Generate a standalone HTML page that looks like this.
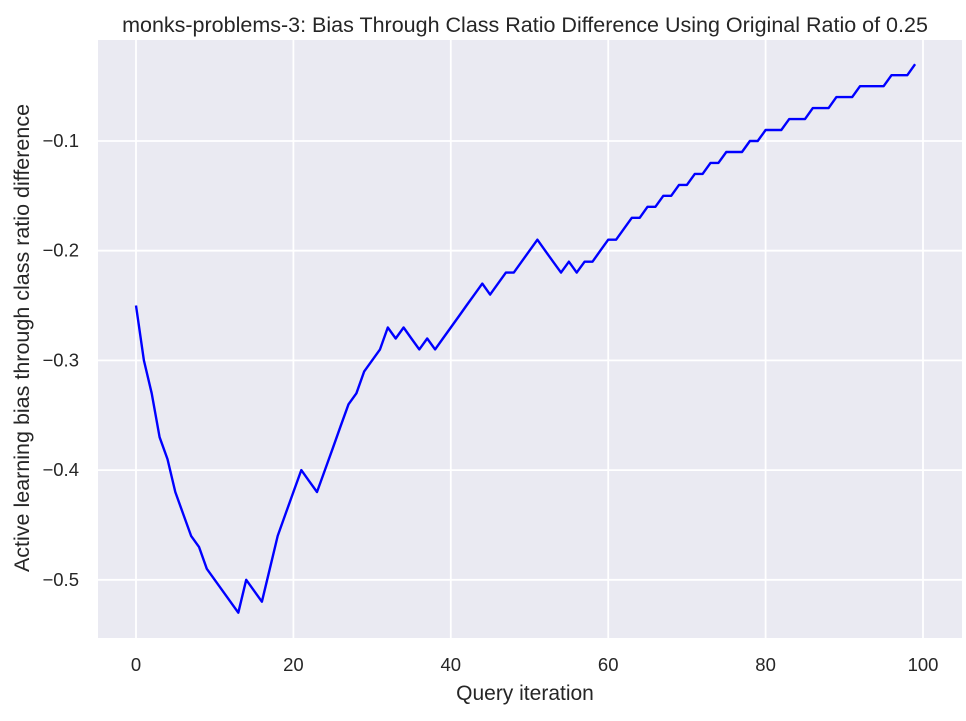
<!DOCTYPE html>
<html><head><meta charset="utf-8"><style>
body{margin:0;background:#fff;font-family:"Liberation Sans","DejaVu Sans",sans-serif}
text{font-family:"Liberation Sans","DejaVu Sans",sans-serif;fill:#262626}
</style></head><body>
<svg id="chart" width="966" height="716" xmlns="http://www.w3.org/2000/svg">
<rect x="98" y="40" width="864" height="598" fill="#eaeaf2"/>
<g id="grid"></g>
<g id="ticks"></g>
<path id="line" fill="none" stroke="#0000ff" stroke-width="2.4" stroke-linejoin="round"/>
<text x="525" y="32" text-anchor="middle" font-size="21.5">monks-problems-3: Bias Through Class Ratio Difference Using Original Ratio of 0.25</text>
<text x="525" y="700" text-anchor="middle" font-size="21">Query iteration</text>
<text transform="translate(29,338) rotate(-90)" text-anchor="middle" font-size="21.5">Active learning bias through class ratio difference</text>
</svg>
<script>
const values=[-0.25,-0.30,-0.33,-0.37,-0.39,-0.42,-0.44,-0.46,-0.47,-0.49,-0.50,-0.51,-0.52,-0.53,-0.50,-0.51,-0.52,-0.49,-0.46,-0.44,-0.42,-0.40,-0.41,-0.42,-0.40,-0.38,-0.36,-0.34,-0.33,-0.31,-0.30,-0.29,-0.27,-0.28,-0.27,-0.28,-0.29,-0.28,-0.29,-0.28,-0.27,-0.26,-0.25,-0.24,-0.23,-0.24,-0.23,-0.22,-0.22,-0.21,-0.20,-0.19,-0.20,-0.21,-0.22,-0.21,-0.22,-0.21,-0.21,-0.20,-0.19,-0.19,-0.18,-0.17,-0.17,-0.16,-0.16,-0.15,-0.15,-0.14,-0.14,-0.13,-0.13,-0.12,-0.12,-0.11,-0.11,-0.11,-0.10,-0.10,-0.09,-0.09,-0.09,-0.08,-0.08,-0.08,-0.07,-0.07,-0.07,-0.06,-0.06,-0.06,-0.05,-0.05,-0.05,-0.05,-0.04,-0.04,-0.04,-0.03];
const xTicks=[0,20,40,60,80,100];
const yTicks=[-0.1,-0.2,-0.3,-0.4,-0.5];
const yTickLabels=["\u22120.1","\u22120.2","\u22120.3","\u22120.4","\u22120.5"];
const X=i=>136+i*7.87;
const Y=v=>141+(-0.1-v)*1097;
const ns="http://www.w3.org/2000/svg";
const grid=document.getElementById('grid'),ticks=document.getElementById('ticks');
xTicks.forEach(t=>{
 const l=document.createElementNS(ns,'line');
 
 
 l.setAttribute('x1',X(t));l.setAttribute('x2',X(t));l.setAttribute('y1',40);l.setAttribute('y2',638);
 l.setAttribute('stroke','#fff');l.setAttribute('stroke-width','1.8');grid.appendChild(l);
 const tx=document.createElementNS(ns,'text');
 
 
 tx.setAttribute('x',X(t));tx.setAttribute('y',671);tx.setAttribute('text-anchor','middle');tx.setAttribute('font-size','18.5');
 tx.textContent=t;ticks.appendChild(tx);
});
yTicks.forEach((t,i)=>{
 const l=document.createElementNS(ns,'line');
 
 
 l.setAttribute('x1',98);l.setAttribute('x2',962);l.setAttribute('y1',Y(t));l.setAttribute('y2',Y(t));
 l.setAttribute('stroke','#fff');l.setAttribute('stroke-width','1.8');grid.appendChild(l);
 const tx=document.createElementNS(ns,'text');
 
 
 tx.setAttribute('x',79);tx.setAttribute('y',Y(t)+6);tx.setAttribute('text-anchor','end');tx.setAttribute('font-size','18.5');
 tx.textContent=yTickLabels[i];ticks.appendChild(tx);
});
document.getElementById('line').setAttribute('d',values.map((v,i)=>(i?'L':'M')+X(i).toFixed(1)+','+Y(v).toFixed(1)).join(''));
</script>
</body></html>
